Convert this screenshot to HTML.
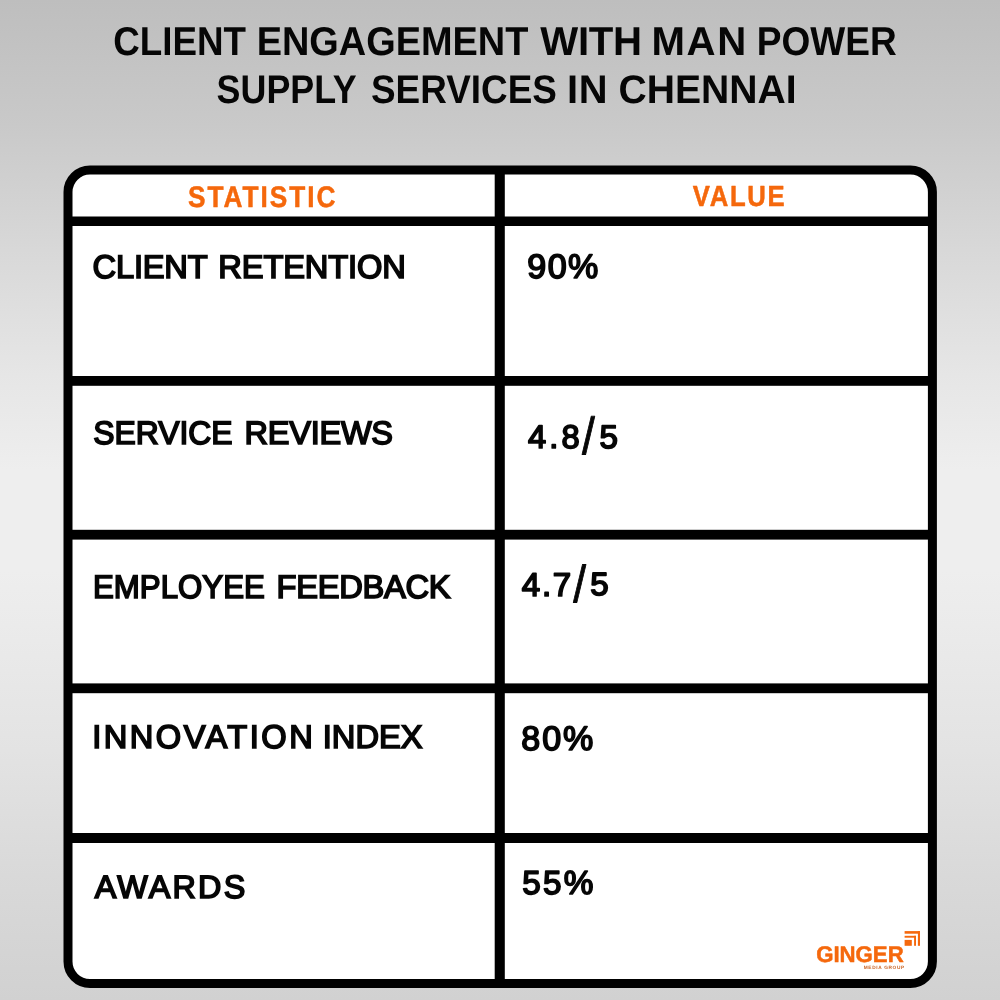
<!DOCTYPE html>
<html lang="en">
<head>
<meta charset="utf-8">
<title>Client Engagement with Man Power Supply Services in Chennai</title>
<style>
html,body{margin:0;padding:0;width:1000px;height:1000px;overflow:hidden;background:#d8d8d8;}
svg{display:block;position:absolute;left:0;top:0;will-change:transform;}
text{font-family:"Liberation Sans",sans-serif;text-rendering:geometricPrecision;}
</style>
</head>
<body>
<svg width="1000" height="1000" viewBox="0 0 1000 1000">
<defs>
<linearGradient id="bg" x1="0" y1="0" x2="0" y2="1">
<stop offset="0" stop-color="#bebebe"/>
<stop offset="0.125" stop-color="#c9c9c9"/>
<stop offset="0.25" stop-color="#d8d8d8"/>
<stop offset="0.375" stop-color="#e6e6e6"/>
<stop offset="0.47" stop-color="#eeeeee"/>
<stop offset="0.57" stop-color="#eeeeee"/>
<stop offset="0.625" stop-color="#ebebeb"/>
<stop offset="0.75" stop-color="#e3e3e3"/>
<stop offset="0.875" stop-color="#d9d9d9"/>
<stop offset="1" stop-color="#d1d1d1"/>
</linearGradient>
</defs>
<rect x="0" y="0" width="1000" height="1000" fill="url(#bg)"/>
<!-- table -->
<rect x="68" y="170" width="864.4" height="813.6" rx="22" ry="22" fill="#ffffff" stroke="#000000" stroke-width="9"/>
<g fill="#000000">
<rect x="494.7" y="170" width="10.1" height="814"/>
<rect x="68" y="216.5" width="864" height="9.5"/>
<rect x="68" y="376" width="864" height="9.8"/>
<rect x="68" y="529.8" width="864" height="9.8"/>
<rect x="68" y="683.4" width="864" height="9.8"/>
<rect x="68" y="833" width="864" height="10"/>
</g>
<!-- logo icon -->
<g fill="#f5680c">
<rect x="904.6" y="931.1" width="15.4" height="2.6"/>
<rect x="917.9" y="931.1" width="2.1" height="14.7"/>
<rect x="904.6" y="935.8" width="11.4" height="1.9"/>
<rect x="914.1" y="935.8" width="1.9" height="10"/>
<rect x="904.6" y="939.9" width="7.2" height="5.9"/>
</g>
<g id="labels">
<text font-size="8"><tspan id="t1a" x="113.18" y="54.75" font-size="40.20" textLength="132.84" lengthAdjust="spacingAndGlyphs" font-weight="700" fill="#060606">CLIENT</tspan> <tspan id="t1b" x="256.66" y="54.75" font-size="40.20" textLength="271.67" lengthAdjust="spacingAndGlyphs" font-weight="700" fill="#060606">ENGAGEMENT</tspan> <tspan id="t1c" x="540.31" y="54.75" font-size="40.20" textLength="101.82" lengthAdjust="spacing" font-weight="700" fill="#060606">WITH</tspan> <tspan id="t1d" x="651.54" y="54.75" font-size="40.20" textLength="94.64" lengthAdjust="spacing" font-weight="700" fill="#060606">MAN</tspan> <tspan id="t1e" x="756.73" y="54.75" font-size="40.20" textLength="140.04" lengthAdjust="spacingAndGlyphs" font-weight="700" fill="#060606">POWER</tspan></text>
<text font-size="8"><tspan id="t2a" x="216.59" y="102.75" font-size="39.93" textLength="140.13" lengthAdjust="spacingAndGlyphs" font-weight="700" fill="#060606">SUPPLY</tspan> <tspan id="t2b" x="371.00" y="102.75" font-size="39.93" textLength="185.93" lengthAdjust="spacingAndGlyphs" font-weight="700" fill="#060606">SERVICES</tspan> <tspan id="t2c" x="567.04" y="102.75" font-size="39.93" textLength="40.61" lengthAdjust="spacing" font-weight="700" fill="#060606">IN</tspan> <tspan id="t2d" x="618.50" y="102.75" font-size="39.93" textLength="178.09" lengthAdjust="spacingAndGlyphs" font-weight="700" fill="#060606">CHENNAI</tspan></text>
<text id="h1" transform="translate(187.97 206.72) scale(0.88 1)" font-size="29.82" letter-spacing="2.242" font-weight="700" fill="#f5680c" stroke="#f5680c" stroke-width="0.5" stroke-linejoin="round">STATISTIC</text>
<text id="h2" transform="translate(692.75 206.34) scale(0.88 1)" font-size="29.19" letter-spacing="1.918" font-weight="700" fill="#f5680c" stroke="#f5680c" stroke-width="0.5" stroke-linejoin="round">VALUE</text>
<text font-size="8"><tspan id="a1a" x="92.56" y="277.75" font-size="32.67" textLength="115.13" lengthAdjust="spacing" font-weight="400" fill="#060606" stroke="#060606" stroke-width="1.7" stroke-linejoin="miter">CLIENT</tspan> <tspan id="a1b" x="218.37" y="277.75" font-size="32.67" textLength="187.43" lengthAdjust="spacing" font-weight="400" fill="#060606" stroke="#060606" stroke-width="1.7" stroke-linejoin="miter">RETENTION</tspan></text>
<text id="b1" x="527.28" y="277.75" font-size="34.05" textLength="71.08" lengthAdjust="spacing" font-weight="400" fill="#060606" stroke="#060606" stroke-width="1.7" stroke-linejoin="round">90%</text>
<text font-size="8"><tspan id="a2a" x="93.22" y="443.75" font-size="32.50" textLength="139.28" lengthAdjust="spacingAndGlyphs" font-weight="400" fill="#060606" stroke="#060606" stroke-width="1.7" stroke-linejoin="miter">SERVICE</tspan> <tspan id="a2b" x="244.60" y="443.75" font-size="32.50" textLength="148.45" lengthAdjust="spacing" font-weight="400" fill="#060606" stroke="#060606" stroke-width="1.7" stroke-linejoin="miter">REVIEWS</tspan></text>
<text font-size="8"><tspan id="b2a" x="527.91" y="447.75" font-size="32.63" textLength="51.68" lengthAdjust="spacing" font-weight="400" fill="#060606" stroke="#060606" stroke-width="1.7" stroke-linejoin="round">4.8</tspan><tspan id="b2s" x="581.96" y="453.94" font-size="52.24" textLength="12.83" lengthAdjust="spacingAndGlyphs" font-weight="400" fill="#060606" stroke="#060606" stroke-width="0.9" stroke-linejoin="round">/</tspan><tspan id="b2b" x="599.56" y="447.69" font-size="32.67" textLength="18.43" lengthAdjust="spacingAndGlyphs" font-weight="400" fill="#060606" stroke="#060606" stroke-width="1.7" stroke-linejoin="round">5</tspan></text>
<text font-size="8"><tspan id="a3a" x="92.97" y="597.75" font-size="32.66" textLength="171.86" lengthAdjust="spacingAndGlyphs" font-weight="400" fill="#060606" stroke="#060606" stroke-width="1.7" stroke-linejoin="miter">EMPLOYEE</tspan> <tspan id="a3b" x="276.57" y="597.75" font-size="32.66" textLength="174.03" lengthAdjust="spacing" font-weight="400" fill="#060606" stroke="#060606" stroke-width="1.7" stroke-linejoin="miter">FEEDBACK</tspan></text>
<text font-size="8"><tspan id="b3a" x="521.87" y="595.80" font-size="33.08" textLength="49.25" lengthAdjust="spacing" font-weight="400" fill="#060606" stroke="#060606" stroke-width="1.7" stroke-linejoin="round">4.7</tspan><tspan id="b3s" x="573.25" y="601.74" font-size="51.84" textLength="12.79" lengthAdjust="spacingAndGlyphs" font-weight="400" fill="#060606" stroke="#060606" stroke-width="0.9" stroke-linejoin="round">/</tspan><tspan id="b3b" x="590.36" y="595.43" font-size="32.09" textLength="18.42" lengthAdjust="spacingAndGlyphs" font-weight="400" fill="#060606" stroke="#060606" stroke-width="1.7" stroke-linejoin="round">5</tspan></text>
<text font-size="8"><tspan id="a4a" x="92.20" y="747.75" font-size="32.66" textLength="220.54" lengthAdjust="spacing" font-weight="400" fill="#060606" stroke="#060606" stroke-width="1.7" stroke-linejoin="miter">INNOVATION</tspan> <tspan id="a4b" x="322.76" y="747.75" font-size="32.66" textLength="99.83" lengthAdjust="spacing" font-weight="400" fill="#060606" stroke="#060606" stroke-width="1.7" stroke-linejoin="miter">INDEX</tspan></text>
<text id="b4" x="521.20" y="749.75" font-size="34.05" textLength="72.16" lengthAdjust="spacing" font-weight="400" fill="#060606" stroke="#060606" stroke-width="1.7" stroke-linejoin="round">80%</text>
<text id="a5" x="94.66" y="897.83" font-size="32.35" textLength="150.57" lengthAdjust="spacing" font-weight="400" fill="#060606" stroke="#060606" stroke-width="1.7" stroke-linejoin="miter">AWARDS</text>
<text id="b5" x="522.37" y="893.75" font-size="33.31" textLength="70.94" lengthAdjust="spacing" font-weight="400" fill="#060606" stroke="#060606" stroke-width="1.7" stroke-linejoin="round">55%</text>
<text id="g1" x="816.13" y="961.70" font-size="22.66" textLength="87.59" lengthAdjust="spacingAndGlyphs" font-weight="700" fill="#f5680c" stroke="#f5680c" stroke-width="0.5" stroke-linejoin="round">GINGER</text>
<text id="g2" transform="translate(863.75 968.61) scale(1.0 1)" font-size="4.78" letter-spacing="0.651" font-weight="700" fill="#c9601f">MEDIA GROUP</text>
</g>
</svg>
</body>
</html>
